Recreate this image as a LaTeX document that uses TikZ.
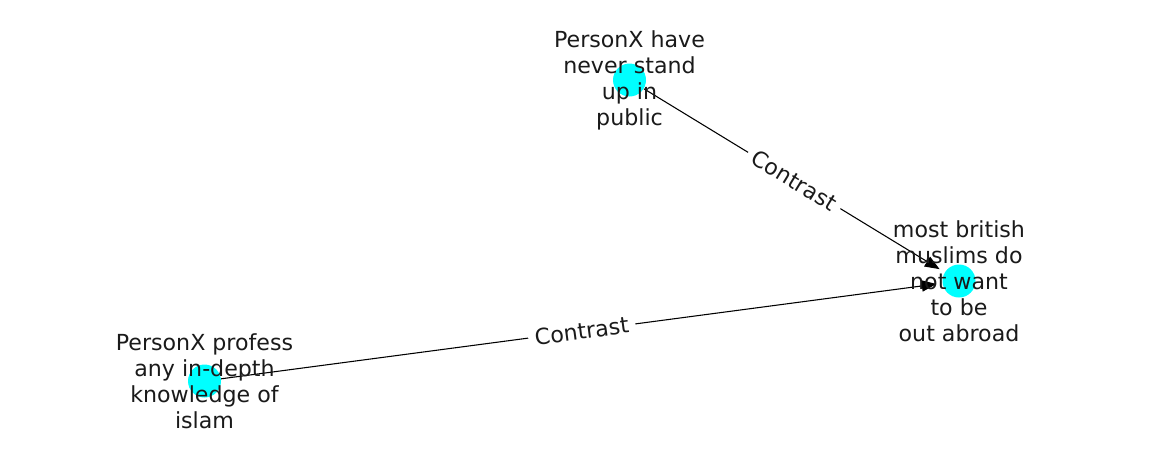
\documentclass[tikz,border=0pt]{standalone}
\usepackage{fontspec}
\setmainfont{DejaVu Sans}
\usetikzlibrary{arrows.meta,backgrounds}

\definecolor{nodecyan}{RGB}{0,255,255}
\definecolor{textgray}{RGB}{26,26,26}

\tikzset{
  dot/.style={circle,fill=nodecyan,minimum size=24.75pt,inner sep=0pt},
  caption/.style={align=center,inner sep=0pt,text=textgray,
    font=\fontsize{16.6pt}{19.5pt}\selectfont},
  rel/.style={-{Triangle[length=11pt,width=8.5pt]},black,line width=0.8pt,shorten >=4.5pt},
  rellabel/.style={sloped,midway,fill=white,inner sep=5pt,text=textgray,
    font=\fontsize{16.6pt}{19.5pt}\selectfont}
}

\begin{document}
\begin{tikzpicture}[x=0.75pt,y=-0.75pt]
            \useasboundingbox (0,0) rectangle (1162,462);

            \node[dot] (stand)   at (629.5, 80) {};
            \node[dot] (abroad)  at (959, 281) {};
            \node[dot] (islam)   at (204.5, 381) {};

            \begin{scope}[on background layer]
              \draw[rel] (stand) to node[rellabel] {Contrast} (abroad);
              \draw[rel] (islam) to node[rellabel] {Contrast} (abroad);
            \end{scope}

            \node[caption] at (stand)  {PersonX have\\never stand\\up in\\public};
            \node[caption] at (abroad) {most british\\muslims do\\not want\\to be\\out abroad};
            \node[caption] at (islam)  {PersonX profess\\any in-depth\\knowledge of\\islam};
          \end{tikzpicture}
\end{document}
